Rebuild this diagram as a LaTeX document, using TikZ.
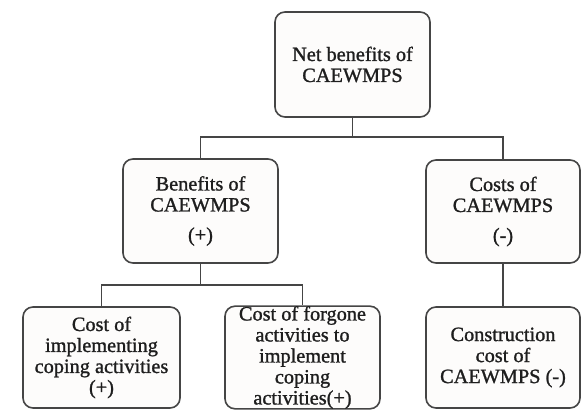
\documentclass[tikz,border=0pt]{standalone}
\usepackage{fontspec}
\setmainfont{Liberation Serif}[FakeBold=1.2]
\definecolor{linec}{HTML}{454545}
\definecolor{boxfill}{HTML}{FDFCFB}
\definecolor{txt}{HTML}{1E1E1E}
\begin{document}
\begin{tikzpicture}[x=1pt,y=1pt,
  box/.style={draw=linec, line width=1.6pt, rounded corners=10pt, fill=boxfill,
    align=center, inner sep=0pt, text=txt,
    font=\fontsize{20.3}{21}\selectfont},
  conn/.style={draw=linec, line width=1.7pt}]
\useasboundingbox (0,0) rectangle (583,411);
\node[box, minimum width=155pt, minimum height=105pt] (top) at (352.5,346.5) {Net benefits of\\CAEWMPS};
\node[box, minimum width=155pt, minimum height=104pt] (ben) at (200.5,200) {Benefits of\\CAEWMPS\\[9pt](+)};
\node[box, minimum width=154pt, minimum height=103pt] (cost) at (503,199.5) {Costs of\\CAEWMPS\\[9pt](-)};
\node[box, minimum width=157pt, minimum height=101pt] (b1) at (101.5,53.5) {Cost of\\implementing\\coping activities\\(+)};
\node[box, minimum width=155pt, minimum height=101pt] (b2) at (302.5,53.5) {Cost of forgone\\activities to\\implement\\coping\\activities(+)};
\node[box, minimum width=154pt, minimum height=101pt] (b3) at (503,53.5) {Construction\\cost of\\CAEWMPS (-)};
\coordinate (j1) at (352.5,274);
\coordinate (j2) at (200.5,126);
\draw[conn] (top.south) -- (j1);
\draw[conn] (ben.north) |- (j1) -| (cost.north);
\draw[conn] (ben.south) -- (j2);
\draw[conn] (b1.north) |- (j2) -| (b2.north);
\draw[conn] (cost.south) -- (b3.north);
\end{tikzpicture}
\end{document}
